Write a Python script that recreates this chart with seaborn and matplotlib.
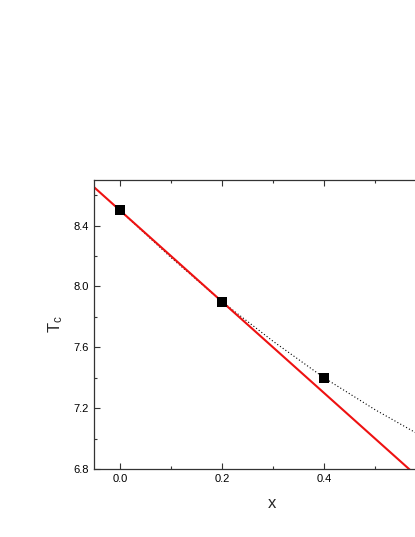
import matplotlib
matplotlib.use("Agg")
import matplotlib.pyplot as plt
import numpy as np
import pandas as pd
import seaborn as sns
from matplotlib.ticker import MultipleLocator, FixedLocator

# measured points
x_pts = [0.0, 0.2, 0.4]
tc_pts = [8.50, 7.90, 7.40]

# red linear line (read at the axis edges)
x_lin = [-0.06, 0.65]
tc_lin = [8.68, 6.55]

# dotted curve, values
x_dot = [0.0, 0.1, 0.2, 0.3, 0.4, 0.5, 0.6]
tc_dot = [8.50, 8.19, 7.90, 7.64, 7.40, 7.19, 7.00]

x_ticks = [0.0, 0.2, 0.4]

sns.set_style("ticks")
plt.rcParams['font.family'] = ['Liberation Sans', 'DejaVu Sans']

fig = plt.figure(figsize=(4.15, 5.37), dpi=100)
ax = fig.add_axes([94 / 415, 1 - 469 / 537, 356 / 415, 289 / 537])

df_lin = pd.DataFrame({'x': x_lin, 'Tc': tc_lin})
df_dot = pd.DataFrame({'x': x_dot, 'Tc': tc_dot})
df_pts = pd.DataFrame({'x': x_pts, 'Tc': tc_pts})

sns.lineplot(data=df_dot, x='x', y='Tc', color='black', lw=0.8,
             linestyle=(0, (1, 2)), ax=ax)
sns.lineplot(data=df_lin, x='x', y='Tc', color='#ee1111', lw=1.5, ax=ax)
sns.scatterplot(data=df_pts, x='x', y='Tc', marker='s', s=50, color='black',
                edgecolor='black', linewidth=0, ax=ax, zorder=5)

ax.set_xlim(-0.051, 0.647)
ax.set_ylim(6.8, 8.70)
ax.xaxis.set_major_locator(FixedLocator(x_ticks))
ax.xaxis.set_minor_locator(FixedLocator([0.1, 0.3, 0.5]))
ax.yaxis.set_major_locator(MultipleLocator(0.4))
ax.yaxis.set_minor_locator(MultipleLocator(0.2))
ax.tick_params(which='both', direction='in', top=True, right=True,
               labelsize=8, width=0.8, colors='#333333', labelcolor='black')
ax.tick_params(which='major', length=4)
ax.tick_params(which='minor', length=2)
for s in ax.spines.values():
    s.set_linewidth(0.9)
    s.set_color('#333333')

ax.set_xlabel('x', fontsize=12, labelpad=9)
ax.set_ylabel(r'$\mathregular{T_c}$', fontsize=12, labelpad=6)

fig.savefig('out.png', dpi=100)
